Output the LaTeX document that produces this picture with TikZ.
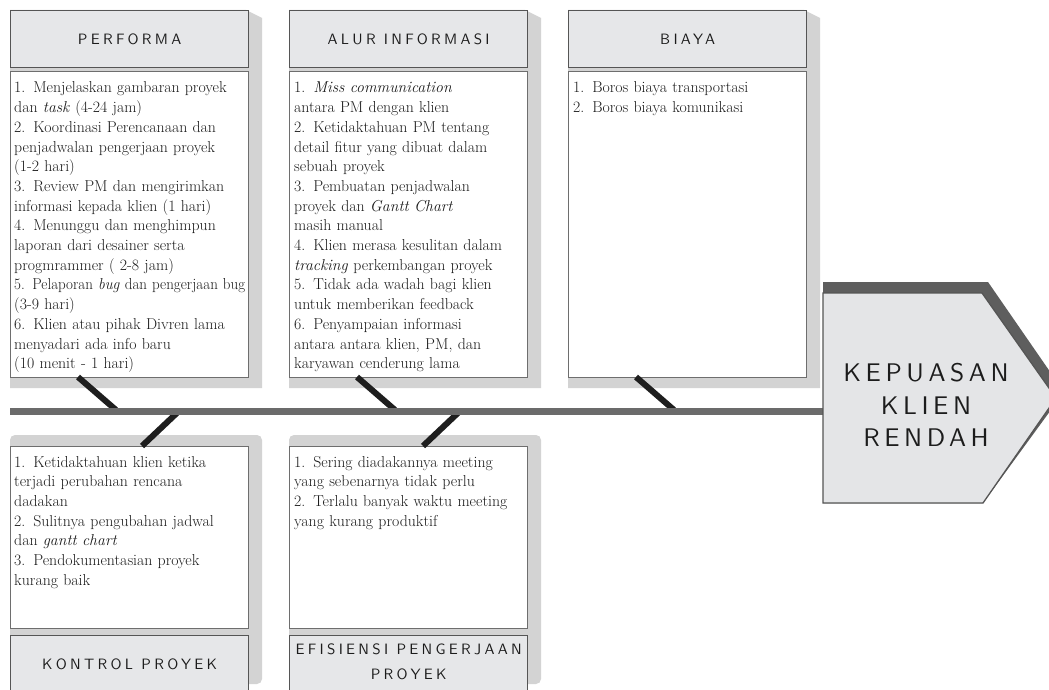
\documentclass[tikz,border=0pt]{standalone}
\usepackage{fontspec}
\usepackage{graphicx}
\newfontfamily\capsfont{lmsans10-regular}[Extension=.otf,LetterSpace=22]
\newfontfamily\bigcapsfont{lmsans10-regular}[Extension=.otf,LetterSpace=18]
\definecolor{shadowgray}{HTML}{D3D3D3}
\definecolor{headfill}{HTML}{E6E7E9}
\definecolor{borderdark}{HTML}{555555}
\definecolor{bordergray}{HTML}{6E6E6E}
\definecolor{spinecol}{HTML}{6B6B6B}
\definecolor{bonecol}{HTML}{1E1E1E}
\definecolor{arrowfill}{HTML}{E4E5E7}
\definecolor{arrowshadow}{HTML}{5E5E5E}
\definecolor{textcol}{HTML}{1C1C1C}
\newsavebox\fitbox
\newcommand\fl[1]{\sbox\fitbox{#1}\ifdim\wd\fitbox>231pt\relax\resizebox{231pt}{\ht\fitbox}{\usebox\fitbox}\else\usebox\fitbox\fi}
\tikzset{
  panel/.style={fill=shadowgray, draw=none},
  headbox/.style={draw=borderdark, line width=1.3pt, fill=headfill, anchor=north west,
    inner sep=0pt, minimum width=238pt, minimum height=57pt, text=textcol,
    align=center, font=\capsfont\fontsize{15}{25}\selectfont},
  textbox/.style={draw=bordergray, line width=1pt, fill=white, anchor=north west,
    inner sep=0pt, minimum width=238pt},
  body/.style={anchor=base west, inner sep=0pt, text width=250pt, align=left,
    text=textcol, font=\fontsize{15.8}{19.7}\selectfont},
  bone/.style={draw=bonecol, line width=6pt},
  spine/.style={draw=spinecol, line width=7pt},
}
\begin{document}
\begin{tikzpicture}[x=1pt,y=-1pt]
\clip (0,0) rectangle (1049,690);
\fill[white] (0,0) rectangle (1049,690);

% ---------- top shadow panels
\foreach \x in {10,289,568}{
  \fill[panel] (\x+236,10) -- (\x+252,18) -- (\x+252,388) -- (\x,388) -- (\x,10) -- cycle;
}
% ---------- bottom shadow panels
\foreach \x in {10,289}{
  \fill[panel, rounded corners=5pt] (\x,435) rectangle (\x+252,684);
}

% ---------- top column boxes
\node[headbox] (perfH) at (10,10) {PERFORMA};
\node[textbox, minimum height=306pt] (perfT) at (10,71) {};
\node[headbox] (alurH) at (289,10) {ALUR INFORMASI};
\node[textbox, minimum height=306pt] (alurT) at (289,71) {};
\node[headbox] (biayaH) at (568,10) {BIAYA};
\node[textbox, minimum height=306pt] (biayaT) at (568,71) {};

% ---------- bottom column boxes
\node[textbox, minimum height=182pt] (kontT) at (10,446) {};
\node[headbox] (kontH) at (10,635) {KONTROL PROYEK};
\node[textbox, minimum height=182pt] (efisT) at (289,446) {};
\node[headbox, text depth=5pt] (efisH) at (289,635) {EFISIENSI PENGERJAAN\\PROYEK};

% ---------- texts
\node[body] (perfL) at (14,93) {\fl{1. Menjelaskan gambaran proyek}\\
\fl{dan \textit{task} (4-24 jam)}\\
\fl{2. Koordinasi Perencanaan dan}\\
\fl{penjadwalan pengerjaan proyek}\\
\fl{(1-2 hari)}\\
\fl{3. Review PM dan mengirimkan}\\
\fl{informasi kepada klien (1 hari)}\\
\fl{4. Menunggu dan menghimpun}\\
\fl{laporan dari desainer serta}\\
\fl{progmrammer ( 2-8 jam)}\\
\fl{5. Pelaporan \textit{bug} dan pengerjaan bug}\\
\fl{(3-9 hari)}\\
\fl{6. Klien atau pihak Divren lama}\\
\fl{menyadari ada info baru}\\
\fl{(10 menit - 1 hari)}};

\node[body] (alurL) at (294,93) {\fl{1. \textit{Miss communication}}\\
\fl{antara PM dengan klien}\\
\fl{2. Ketidaktahuan PM tentang}\\
\fl{detail fitur yang dibuat dalam}\\
\fl{sebuah proyek}\\
\fl{3. Pembuatan penjadwalan}\\
\fl{proyek dan \textit{Gantt Chart}}\\
\fl{masih manual}\\
\fl{4. Klien merasa kesulitan dalam}\\
\fl{\textit{tracking} perkembangan proyek}\\
\fl{5. Tidak ada wadah bagi klien}\\
\fl{untuk memberikan feedback}\\
\fl{6. Penyampaian informasi}\\
\fl{antara antara klien, PM, dan}\\
\fl{karyawan cenderung lama}};

\node[body] (biayaL) at (573,93) {\fl{1. Boros biaya transportasi}\\
\fl{2. Boros biaya komunikasi}};

\node[body] (kontL) at (14,467) {\fl{1. Ketidaktahuan klien ketika}\\
\fl{terjadi perubahan rencana}\\
\fl{dadakan}\\
\fl{2. Sulitnya pengubahan jadwal}\\
\fl{dan \textit{gantt chart}}\\
\fl{3. Pendokumentasian proyek}\\
\fl{kurang baik}};

\node[body] (efisL) at (294,467) {\fl{1. Sering diadakannya meeting}\\
\fl{yang sebenarnya tidak perlu}\\
\fl{2. Terlalu banyak waktu meeting}\\
\fl{yang kurang produktif}};

% ---------- bones
\coordinate (b1a) at (78,377);  \coordinate (b1b) at (116,410);
\coordinate (b2a) at (357,377); \coordinate (b2b) at (395,410);
\coordinate (b3a) at (636,377); \coordinate (b3b) at (674,410);
\coordinate (b4a) at (179,411); \coordinate (b4b) at (142,446);
\coordinate (b5a) at (460,411); \coordinate (b5b) at (423,446);
\draw[bone] (b1a) -- (b1b);
\draw[bone] (b2a) -- (b2b);
\draw[bone] (b3a) -- (b3b);
\draw[bone] (b4a) -- (b4b);
\draw[bone] (b5a) -- (b5b);

% ---------- spine
\coordinate (sp0) at (10,411);
\coordinate (sp1) at (824,411);
\draw[spine] (sp0) -- (sp1);

% ---------- head
\fill[arrowshadow] (823,282) -- (988,282) -- (1064,392) -- (983,503) -- (823,503) -- cycle;
\draw[fill=arrowfill, draw=borderdark, line width=1.3pt]
  (823,293) -- (982,293) -- (1056,398) -- (983,503) -- (823,503) -- cycle;
\node[align=center, text=textcol, inner sep=0pt,
  font=\bigcapsfont\fontsize{25.5}{32.5}\selectfont] (head) at (926,405)
  {KEPUASAN\\KLIEN\\RENDAH};
\end{tikzpicture}
\end{document}
